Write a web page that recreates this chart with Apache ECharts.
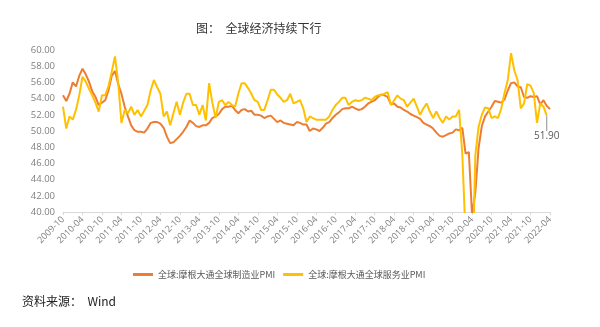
<!DOCTYPE html>
<html>
<head>
<meta charset="utf-8">
<script src="https://cdn.jsdelivr.net/npm/echarts@6/dist/echarts.min.js"></script>
<style>
html,body{margin:0;padding:0;background:#fff;}
#c{width:600px;height:327px;}
</style>
</head>
<body>
<div id="c"></div>
<script>
// Categories: monthly from 2009-10 to 2022-04
const months = [];
for (let y = 2009; y <= 2022; y++) {
  for (let m = 1; m <= 12; m++) {
    if (y === 2009 && m < 10) continue;
    if (y === 2022 && m > 4) continue;
    months.push(y + '-' + (m < 10 ? '0' + m : m));
  }
}

const titleText = '图：  全球经济持续下行';
const sourceText = '资料来源：  Wind';
const seriesNames = ['全球:摩根大通全球制造业PMI', '全球:摩根大通全球服务业PMI'];

const manufacturing = [
  54.4,53.7,54.6,56.0,55.5,56.8,57.7,57.0,56.1,54.9,54.2,53.2,
  53.5,53.8,55.0,56.8,57.4,55.8,54.6,53.0,51.8,50.7,50.1,49.9,
  49.9,49.8,50.3,51.0,51.1,51.1,50.9,50.4,49.3,48.5,48.6,49.0,
  49.4,49.9,50.5,51.3,51.0,50.6,50.5,50.7,50.7,51.0,51.6,51.8,
  52.1,52.7,53.0,53.0,53.1,52.6,52.2,52.6,52.7,52.4,52.5,52.0,
  52.0,51.9,51.6,51.8,51.9,51.5,51.1,51.3,51.0,50.9,50.8,50.7,
  51.1,51.0,50.8,50.8,50.0,50.3,50.2,50.0,50.4,50.9,51.1,51.6,
  52.0,52.3,52.7,52.8,52.8,53.0,52.8,52.6,52.7,53.0,53.4,53.6,
  53.8,54.2,54.5,54.4,54.2,53.3,53.4,53.0,52.9,52.6,52.4,52.1,
  51.9,51.7,51.5,51.0,50.8,50.6,50.3,49.8,49.4,49.3,49.5,49.7,
  49.8,50.2,50.1,50.4,47.2,47.4,39.6,42.4,47.9,50.6,51.8,52.4,
  53.0,53.7,53.6,53.5,53.9,55.0,55.9,56.0,55.5,55.4,54.2,54.1,
  54.3,54.2,54.3,53.3,53.8,53.1,52.7
];

const services = [
  53.0,50.3,51.8,51.4,52.6,54.4,56.7,56.1,55.2,54.4,53.5,52.4,
  54.4,54.4,55.5,57.3,59.2,56.0,51.0,52.6,52.2,53.0,52.0,52.6,
  51.8,52.5,53.2,55.0,56.3,55.4,54.6,51.8,52.4,50.7,52.2,53.6,
  52.0,53.5,54.6,54.6,53.2,53.2,52.0,53.2,51.3,55.9,53.5,51.6,
  53.6,53.8,53.2,53.6,53.2,53.0,54.6,55.9,55.9,55.3,54.6,53.8,
  53.6,52.6,52.6,53.8,55.1,55.1,54.5,54.1,53.6,53.8,54.6,53.4,
  53.6,53.8,52.8,51.1,51.8,51.6,51.4,51.4,51.4,51.4,51.8,52.6,
  53.2,53.6,54.1,54.1,53.2,53.6,53.8,53.7,53.8,54.1,54.0,53.8,
  54.2,54.4,54.4,54.6,54.8,53.2,53.8,54.4,54.0,53.8,53.0,53.5,
  54.0,53.0,52.0,52.8,53.4,52.4,51.6,52.4,51.6,51.0,51.8,51.4,
  51.8,51.8,52.6,47.1,37.0,23.7,30.7,47.0,50.5,52.0,52.9,
  52.8,51.6,51.8,51.6,52.8,54.7,56.3,59.6,57.5,56.3,52.8,53.4,
  55.8,55.6,54.7,51.0,53.4,53.0,51.9
];

const yTicks = { min: 40, max: 60, step: 2 };

const chart = echarts.init(document.getElementById('c'), null, { renderer: 'canvas' });
const lastIdx = services.length - 1;

chart.setOption({
  backgroundColor: '#ffffff',
  animation: false,
  title: [{
    text: titleText,
    left: 191,
    top: 17,
    textStyle: { fontFamily: 'Noto Sans CJK SC', fontSize: 12, fontWeight: 'normal', color: '#333333' }
  }],
  graphic: [{
    type: 'text',
    left: 22,
    top: 295,
    style: { text: sourceText, font: '12px "Noto Sans CJK SC"', fill: '#222222' }
  }],
  legend: {
    top: 265,
    left: 128,
    itemWidth: 20,
    itemHeight: 3,
    itemGap: 8,
    icon: 'rect',
    textStyle: { fontFamily: 'Noto Sans CJK SC', fontSize: 9, color: '#595959' },
    data: seriesNames
  },
  grid: { left: 63, right: 50, top: 50, bottom: 115, containLabel: false },
  xAxis: {
    type: 'category',
    boundaryGap: false,
    data: months,
    axisLine: { lineStyle: { color: '#d9d9d9', width: 1 } },
    axisTick: { show: true, interval: 5, length: 3, lineStyle: { color: '#d9d9d9' } },
    axisLabel: {
      interval: 5,
      rotate: 45,
      fontSize: 9,
      color: '#7f7f7f',
      fontFamily: 'Open Sans',
      margin: 6
    },
    splitLine: { show: false }
  },
  yAxis: {
    type: 'value',
    min: yTicks.min,
    max: yTicks.max,
    interval: yTicks.step,
    axisLine: { show: false },
    axisTick: { show: false },
    splitLine: { show: false },
    axisLabel: {
      fontSize: 9.5,
      color: '#7f7f7f',
      fontFamily: 'Open Sans',
      margin: 8,
      formatter: v => v.toFixed(2)
    }
  },
  series: [
    {
      name: seriesNames[0],
      type: 'line',
      data: manufacturing,
      showSymbol: false,
      symbol: 'none',
      clip: true,
      lineStyle: { color: '#ED7D31', width: 2 },
      itemStyle: { color: '#ED7D31' }
    },
    {
      name: seriesNames[1],
      type: 'line',
      data: services.map((v, i) => i === lastIdx ? {
        value: v,
        symbol: 'circle',
        symbolSize: 1,
        label: {
          show: true,
          position: 'bottom',
          distance: 3,
          formatter: p => p.value.toFixed(2),
          fontSize: 10,
          color: '#595959',
          fontFamily: 'Open Sans'
        }
      } : v),
      labelLayout: { dy: 12 },
      labelLine: { show: true, length2: 0, lineStyle: { color: '#8c8c8c', width: 1 } },
      showSymbol: true,
      symbol: 'circle',
      symbolSize: 0,
      clip: true,
      lineStyle: { color: '#FFC000', width: 2 },
      itemStyle: { color: '#FFC000' }
    }
  ]
});
</script>
</body>
</html>
